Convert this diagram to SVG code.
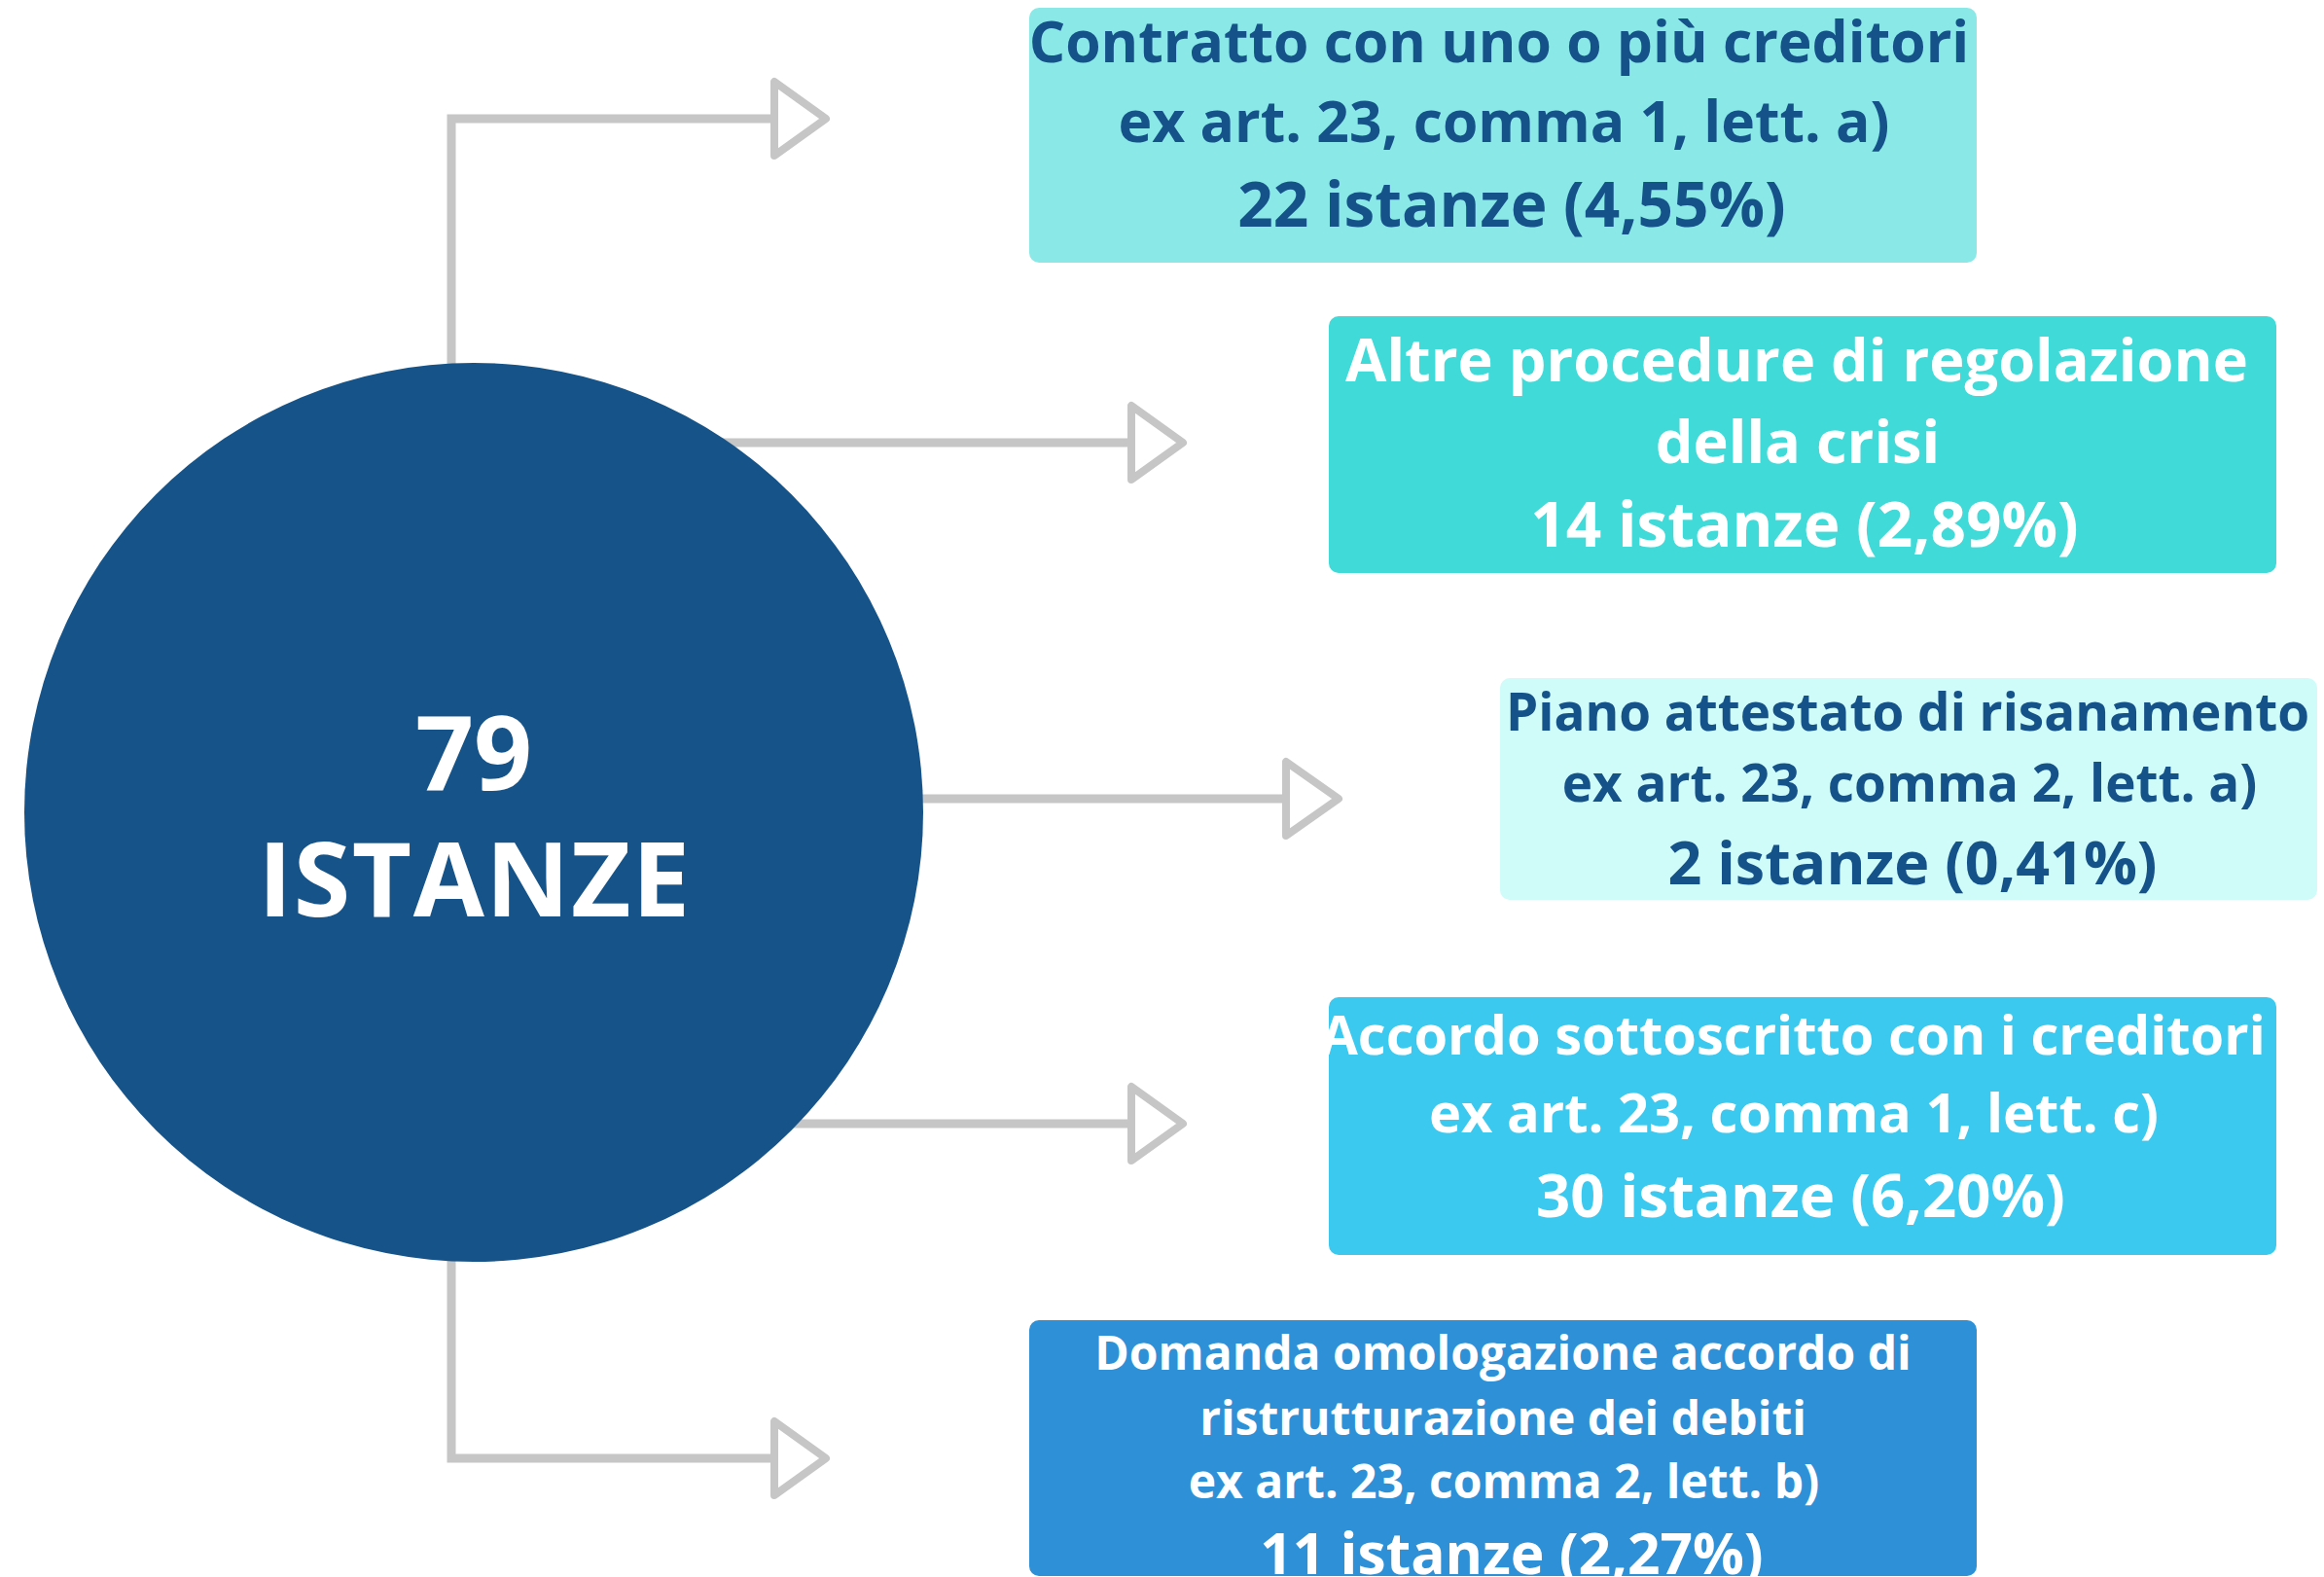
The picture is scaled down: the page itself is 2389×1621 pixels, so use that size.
<svg xmlns="http://www.w3.org/2000/svg" width="2389" height="1621" viewBox="0 0 2389 1621">
<style>
.conn{fill:none;stroke:#c6c6c6;stroke-width:9}
.head{fill:#ffffff;stroke:#c6c6c6;stroke-width:8;stroke-linejoin:round}
.t{font-family:"Open Sans","Noto Sans","Liberation Sans",sans-serif;font-weight:700;text-anchor:middle}
.dark{fill:#16528a}
.light{fill:#ffffff}
</style>
<rect width="2389" height="1621" fill="#ffffff"/>
<g id="connectors">
<path class="conn" d="M464,500 V122 H796"/>
<polygon class="head" points="796,84 796,160 849,122"/>
<path class="conn" d="M700,455 H1163"/>
<polygon class="head" points="1163,417 1163,493 1216,455"/>
<path class="conn" d="M900,821 H1322"/>
<polygon class="head" points="1322,783 1322,859 1376,821"/>
<path class="conn" d="M780,1155 H1163"/>
<polygon class="head" points="1163,1117 1163,1193 1216,1155"/>
<path class="conn" d="M464,1200 V1499 H796"/>
<polygon class="head" points="796,1461 796,1537 849,1499"/>
</g>
<g id="center">
<circle cx="487" cy="835" r="462" fill="#165388"/>
<text class="t light" x="487" y="812" font-size="105">79</text>
<text class="t light" x="488" y="942" font-size="106" letter-spacing="1.5">ISTANZE</text>
</g>
<g id="contratto">
<rect x="1058" y="8" width="974" height="262" rx="10" fill="#8ae9e7"/>
<text class="t dark" x="1541" y="64" font-size="58.8">Contratto con uno o più creditori</text>
<text class="t dark" x="1546" y="146" font-size="58.8">ex art. 23, comma 1, lett. a)</text>
<text class="t dark" x="1554" y="233" font-size="63.9">22 istanze (4,55%)</text>
</g>
<g id="altre">
<rect x="1366" y="325" width="974" height="264" rx="10" fill="#40dad8"/>
<text class="t light" x="1847" y="392" font-size="61.3">Altre procedure di regolazione</text>
<text class="t light" x="1848" y="476" font-size="61.3">della crisi</text>
<text class="t light" x="1855" y="562" font-size="63.9">14 istanze (2,89%)</text>
</g>
<g id="piano">
<rect x="1542" y="697" width="840" height="228" rx="10" fill="#cffbf9"/>
<text class="t dark" x="1961" y="751" font-size="53">Piano attestato di risanamento</text>
<text class="t dark" x="1963" y="824" font-size="53">ex art. 23, comma 2, lett. a)</text>
<text class="t dark" x="1966" y="909" font-size="61">2 istanze (0,41%)</text>
</g>
<g id="accordo">
<rect x="1366" y="1025" width="974" height="265" rx="10" fill="#3bc9ef"/>
<text class="t light" x="1843" y="1084" font-size="56">Accordo sottoscritto con i creditori</text>
<text class="t light" x="1844" y="1164" font-size="56">ex art. 23, comma 1, lett. c)</text>
<text class="t light" x="1851" y="1251" font-size="61.7">30 istanze (6,20%)</text>
</g>
<g id="domanda">
<rect x="1058" y="1357" width="974" height="263" rx="10" fill="#2e90d6"/>
<text class="t light" x="1545" y="1408" font-size="48">Domanda omologazione accordo di</text>
<text class="t light" x="1545" y="1475" font-size="48">ristrutturazione dei debiti</text>
<text class="t light" x="1546" y="1540" font-size="48">ex art. 23, comma 2, lett. b)</text>
<text class="t light" x="1554" y="1618" font-size="58.7">11 istanze (2,27%)</text>
</g>
</svg>
